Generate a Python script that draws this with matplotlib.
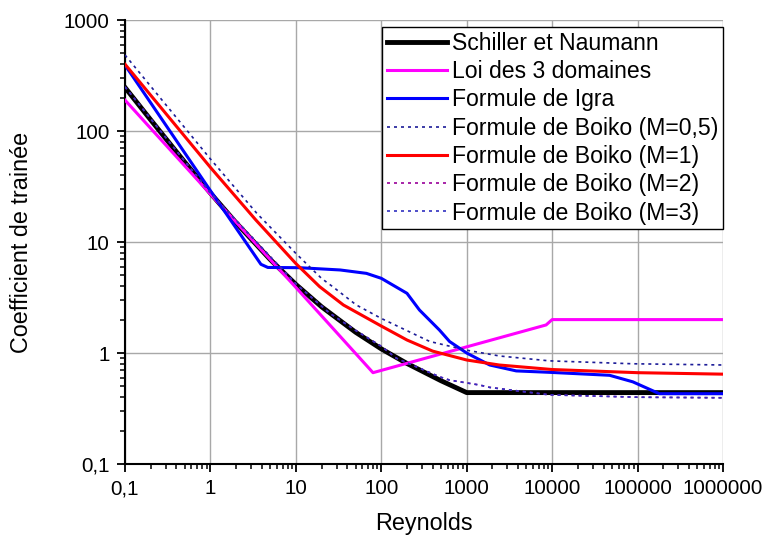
import matplotlib
matplotlib.use('Agg')
import matplotlib.pyplot as plt
from matplotlib.ticker import FixedLocator, FuncFormatter, LogLocator, NullFormatter

plt.rcParams['font.family'] = ['Liberation Sans', 'DejaVu Sans']

# ===== DONNEES =====
re_sn = [0.1, 0.2, 0.5, 1, 2, 5, 10, 20, 50, 100, 200, 500, 1000, 1e6]
cd_sn = [247, 126, 52.5, 27.6, 14.9, 6.97, 4.15, 2.61, 1.54, 1.09, 0.805, 0.563, 0.44, 0.44]

re_3d = [0.1, 1, 10, 80, 8500, 10000, 1e6]
cd_3d = [190, 27, 3.9, 0.665, 1.79, 2.0, 2.0]

re_igra = [0.1, 1, 3.9, 4.7, 11, 33, 67, 100, 200, 280, 480, 630, 1000,
           1860, 3800, 9300, 47000, 88000, 180000, 1e6]
cd_igra = [393, 29, 6.3, 5.9, 5.87, 5.6, 5.22, 4.71, 3.45, 2.44, 1.61, 1.27, 1.0,
           0.78, 0.69, 0.67, 0.63, 0.55, 0.43, 0.43]

re_b05 = [0.1, 1, 3.5, 10, 20, 27, 51, 100, 257, 370, 1000, 2430, 9300, 88000, 1e6]
cd_b05 = [484, 56, 18.1, 7.9, 4.7, 3.96, 2.71, 2.05, 1.45, 1.27, 1.06, 0.94, 0.85, 0.80, 0.78]

re_b1 = [0.1, 1, 3.4, 10, 19, 36, 100, 200, 400, 1000, 2400, 10000, 1e5, 1e6]
cd_b1 = [400, 47, 15.8, 6.4, 3.96, 2.71, 1.75, 1.31, 1.04, 0.865, 0.78, 0.71, 0.665, 0.645]

re_b2 = [0.1, 1, 10, 25, 50, 100, 151, 483, 632, 1413, 1860, 9300, 1e5, 1e6]
cd_b2 = [250, 27.6, 4.2, 2.28, 1.6, 1.15, 0.896, 0.61, 0.57, 0.515, 0.49, 0.42, 0.40, 0.395]

re_b3 = [0.1, 1, 10, 25, 50, 100, 151, 483, 632, 1413, 1860, 9300, 1e5, 1e6]
cd_b3 = [250, 27.6, 4.2, 2.28, 1.6, 1.15, 0.896, 0.61, 0.57, 0.515, 0.49, 0.42, 0.40, 0.395]

x_ticks = [0.1, 1, 10, 100, 1000, 10000, 100000, 1000000]
y_ticks = [0.1, 1, 10, 100, 1000]


def fmt(v, pos):
    if v < 1:
        return '{:g}'.format(v).replace('.', ',')
    return '{:d}'.format(int(round(v)))


# ===== GRAPHE =====
fig = plt.figure(figsize=(7.64, 5.41), dpi=100)
ax = fig.add_axes([0.1636, 0.1423, 0.9463 - 0.1636, 0.963 - 0.1423])

dot = (0, (1.8, 2.4))
ax.plot(re_sn, cd_sn, color='black', lw=3.5, label='Schiller et Naumann', zorder=3)
ax.plot(re_3d, cd_3d, color='#ff00ff', lw=2.2, label='Loi des 3 domaines', zorder=4)
ax.plot(re_igra, cd_igra, color='#0000ff', lw=2.2, label='Formule de Igra', zorder=5)
ax.plot(re_b05, cd_b05, color='#1c1c98', lw=1.2, ls=dot, label='Formule de Boiko (M=0,5)', zorder=6)
ax.plot(re_b1, cd_b1, color='#ff0000', lw=2.2, label='Formule de Boiko (M=1)', zorder=7)
ax.plot(re_b2, cd_b2, color='#990099', lw=1.2, ls=dot, label='Formule de Boiko (M=2)', zorder=8)
ax.plot(re_b3, cd_b3, color='#3030c0', lw=1.2, ls=dot, label='Formule de Boiko (M=3)', zorder=9)

ax.set_xscale('log')
ax.set_yscale('log')
ax.set_xlim(0.1, 1e6)
ax.set_ylim(0.1, 1000)

ax.xaxis.set_major_locator(FixedLocator(x_ticks))
ax.yaxis.set_major_locator(FixedLocator(y_ticks))
ax.xaxis.set_major_formatter(FuncFormatter(fmt))
ax.yaxis.set_major_formatter(FuncFormatter(fmt))
ax.xaxis.set_minor_locator(LogLocator(base=10, subs=range(2, 10), numticks=20))
ax.yaxis.set_minor_locator(LogLocator(base=10, subs=range(2, 10), numticks=20))
ax.xaxis.set_minor_formatter(NullFormatter())
ax.yaxis.set_minor_formatter(NullFormatter())

ax.grid(True, which='major', color='#a8a8a8', lw=1.0)
ax.set_axisbelow(True)
for s in ['top', 'right']:
    ax.spines[s].set_visible(False)
for s in ['left', 'bottom']:
    ax.spines[s].set_linewidth(1.5)

ax.tick_params(which='major', direction='out', length=6, width=1.3, labelsize=14.8, pad=5)
ax.tick_params(which='minor', direction='out', length=3.5, width=1.1)

ax.set_xlabel('Reynolds', fontsize=16.8, labelpad=10)
ax.set_ylabel('Coefficient de trainée', fontsize=16.8, labelpad=22)

leg = ax.legend(loc='upper right', bbox_to_anchor=(1.0, 0.984), fontsize=16.6,
                frameon=True, fancybox=False, edgecolor='black', framealpha=1,
                borderaxespad=0, borderpad=0.2, labelspacing=0.23,
                handlelength=2.6, handletextpad=0.22)
leg.get_frame().set_linewidth(1.0)

plt.savefig('out.png', dpi=100)
